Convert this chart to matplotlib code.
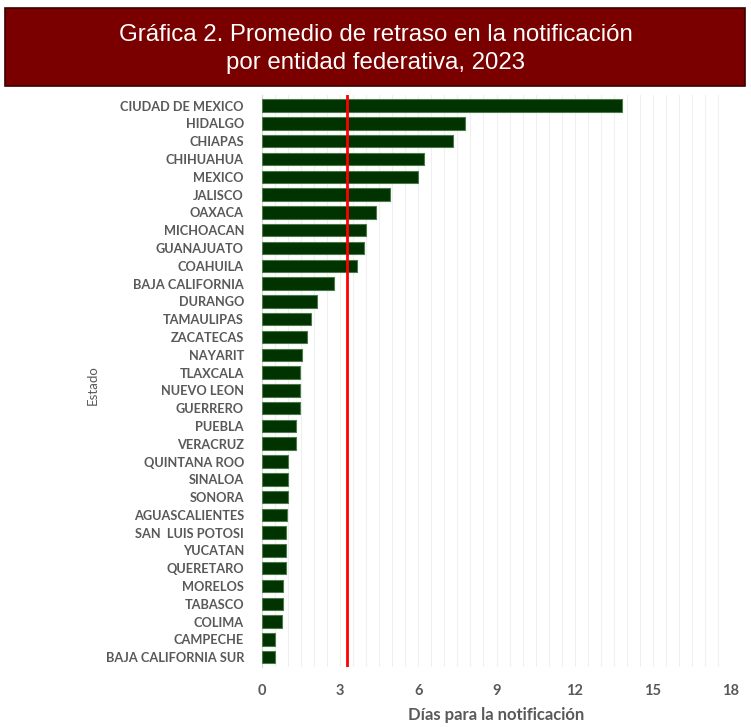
import matplotlib.pyplot as plt
import numpy as np
from matplotlib.patches import Rectangle

estados = ["CIUDAD DE MEXICO", "HIDALGO", "CHIAPAS", "CHIHUAHUA", "MEXICO", "JALISCO",
           "OAXACA", "MICHOACAN", "GUANAJUATO", "COAHUILA", "BAJA CALIFORNIA", "DURANGO",
           "TAMAULIPAS", "ZACATECAS", "NAYARIT", "TLAXCALA", "NUEVO LEON", "GUERRERO",
           "PUEBLA", "VERACRUZ", "QUINTANA ROO", "SINALOA", "SONORA", "AGUASCALIENTES",
           "SAN  LUIS POTOSI", "YUCATAN", "QUERETARO", "MORELOS", "TABASCO", "COLIMA",
           "CAMPECHE", "BAJA CALIFORNIA SUR"]
dias = [13.8, 7.81, 7.33, 6.22, 5.98, 4.92,
        4.38, 4.0, 3.91, 3.66, 2.75, 2.12,
        1.87, 1.73, 1.54, 1.45, 1.45, 1.45,
        1.31, 1.31, 1.01, 1.01, 1.01, 0.96,
        0.92, 0.92, 0.92, 0.82, 0.82, 0.78,
        0.48, 0.48]
promedio = 3.25
xticks = [0, 3, 6, 9, 12, 15, 18]

fig = plt.figure(figsize=(7.51, 7.27), dpi=100)

# title box
fig.patches.append(Rectangle((5/751, 1 - 86/727), 740/751, 78/727, transform=fig.transFigure,
                             facecolor="#7a0000", edgecolor="#3a0000", lw=1.2, zorder=0))
fig.text(0.5, 1 - 49/727, "Gráfica 2. Promedio de retraso en la notificación\npor entidad federativa, 2023",
         ha="center", va="center", color="white", fontsize=17.3, family="Liberation Sans",
         linespacing=1.35)

ax = fig.add_axes([262/751, 1 - 667/727, (731 - 262)/751, (667 - 95)/727])
y = np.arange(len(estados))
ax.barh(y, dias, height=0.7, color="#003300", edgecolor="#4a7a4a", linewidth=0.8, zorder=3)
ax.axvline(promedio, color="#ff0000", lw=2, zorder=4)

ax.set_xlim(0, 18)
ax.set_ylim(len(estados) - 0.45, -0.6)
ax.set_xticks(xticks)
ax.set_xticks(np.arange(0, 18.01, 0.5), minor=True)
ax.grid(True, axis="x", which="both", color="#f0f0f0", lw=0.8, zorder=0)
ax.set_yticks(y)
ax.set_yticklabels(estados, fontsize=9.2, fontweight="bold", color="#595959", family="Lato")
for lbl in ax.get_xticklabels():
    lbl.set_fontsize(10.5)
    lbl.set_fontweight("bold")
    lbl.set_color("#595959")
    lbl.set_family("Lato")
ax.tick_params(axis="both", which="both", length=0)
ax.tick_params(axis="x", pad=12)
ax.tick_params(axis="y", pad=13)
for s in ["top", "right", "bottom"]:
    ax.spines[s].set_visible(False)
ax.spines["left"].set_color("#d9d9d9")

ax.set_xlabel("Días para la notificación", fontsize=12, fontweight="bold", color="#595959",
              family="Lato", labelpad=7)
fig.text(93/751, 1 - 385/727, "Estado", rotation=90, ha="center", va="center",
         fontsize=9.5, color="#595959", family="Lato")

fig.savefig("out.png", dpi=100)
